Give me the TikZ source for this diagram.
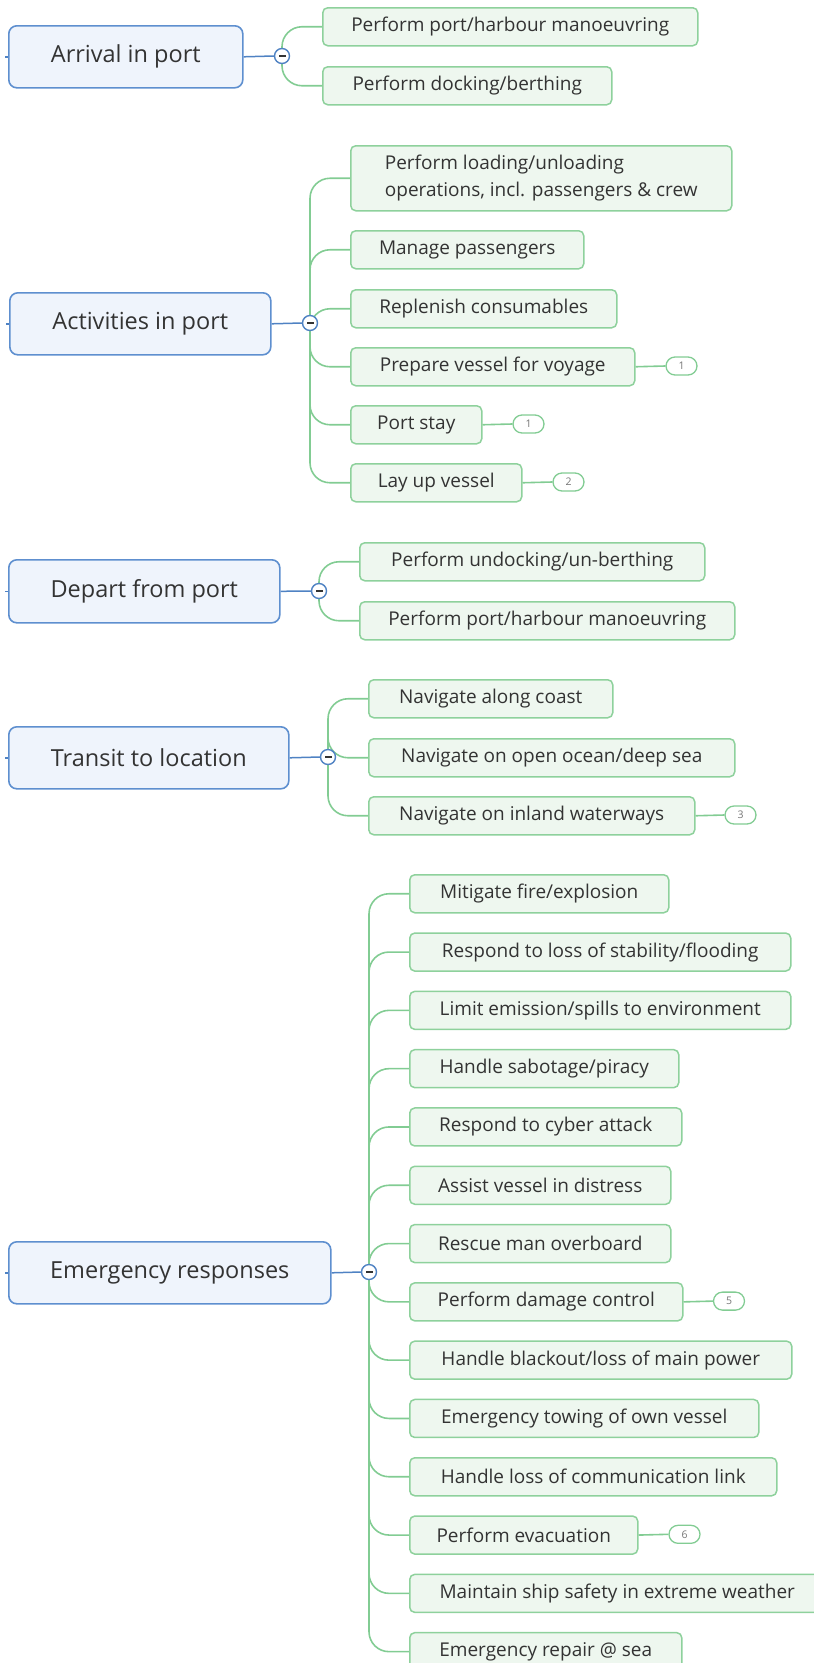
\documentclass[tikz,border=0pt]{standalone}
\usepackage{fontspec}
\setmainfont{Open Sans}
\usetikzlibrary{backgrounds}
\definecolor{rootfill}{HTML}{EFF4FC}
\definecolor{rootdraw}{HTML}{5E8FCF}
\definecolor{kidfill}{HTML}{EEF7EF}
\definecolor{kiddraw}{HTML}{8ED19C}
\definecolor{linkblue}{HTML}{4F82C3}
\definecolor{linkgreen}{HTML}{82CC93}
\definecolor{txt}{HTML}{333333}
\definecolor{badgetxt}{HTML}{777777}
\newcommand\kid[5]{\node[kidbox, minimum width=#4] (#1) at (#2,#3) {#5};}
\begin{document}
\begin{tikzpicture}[x=1pt,y=-1pt,
  rootbox/.style={draw=rootdraw, fill=rootfill, line width=1.6pt, rounded corners=8pt,
    anchor=north west, inner sep=0pt, minimum height=62pt, text=txt,
    font=\fontsize{23.5}{28}\selectfont},
  kidbox/.style={draw=kiddraw, fill=kidfill, line width=1.5pt, rounded corners=5pt,
    anchor=north west, inner sep=0pt, minimum height=38pt, text=txt,
    font=\fontsize{19}{27}\selectfont},
  toggle/.style={circle, draw=linkblue, fill=white, line width=1.4pt, minimum size=15pt,
    inner sep=0pt, path picture={\fill[txt] ([xshift=-3.5pt,yshift=-1pt]path picture bounding box.center) rectangle ([xshift=3.5pt,yshift=1pt]path picture bounding box.center);}},
  badge/.style={draw=linkgreen, fill=white, line width=1.3pt, rounded corners=9pt,
    minimum width=31pt, minimum height=18pt, inner sep=0pt, text=badgetxt,
    font=\fontsize{10.5}{10.5}\selectfont},
  rootlink/.style={draw=linkblue, line width=1.5pt},
  kidlink/.style={draw=linkgreen, line width=1.6pt, rounded corners=20pt},
  badgelink/.style={draw=linkgreen, line width=1.6pt},
  stub/.style={draw=linkblue, line width=1.5pt}]
\useasboundingbox (0,0) rectangle (814,1663);
\clip (0,0) rectangle (814,1663);

% ---------- Arrival in port ----------
\node[rootbox, minimum width=234pt] (r1) at (8,25) {Arrival in port};
\node[toggle] (c1) at (282,56) {};
\kid{a1}{322}{7}{375}{Perform port/harbour manoeuvring}
\kid{a2}{322}{66}{289}{Perform docking/berthing}

% ---------- Activities in port ----------
\node[rootbox, minimum width=261pt] (r2) at (9,292) {Activities in port};
\node[toggle] (c2) at (310,323) {};
\node[kidbox, minimum width=381pt, minimum height=65pt, align=left] (b1) at (350,145)
  {Perform loading/unloading\\operations, incl. passengers \& crew};
\kid{b2}{350}{230}{233}{Manage passengers}
\kid{b3}{350}{289}{266}{Replenish consumables}
\kid{b4}{350}{347}{284}{Prepare vessel for voyage}
\kid{b5}{350}{405}{131}{Port stay}
\kid{b6}{350}{463}{171}{Lay up vessel}
\node[badge] (bb4) at (681.5,366) {1};
\node[badge] (bb5) at (528.5,424) {1};
\node[badge] (bb6) at (568.5,482) {2};

% ---------- Depart from port ----------
\node[rootbox, minimum width=271pt, minimum height=63pt] (r3) at (8,559) {Depart from port};
\node[toggle] (c3) at (319,591) {};
\kid{d1}{359}{542}{345}{Perform undocking/un-berthing}
\kid{d2}{359}{601}{375}{Perform port/harbour manoeuvring}

% ---------- Transit to location ----------
\node[rootbox, minimum width=280pt] (r4) at (8,726) {Transit to location};
\node[toggle] (c4) at (328,757) {};
\kid{t1}{368}{679}{244}{Navigate along coast}
\kid{t2}{368}{738}{366}{Navigate on open ocean/deep sea}
\kid{t3}{368}{796}{326}{Navigate on inland waterways}
\node[badge] (bt3) at (740.5,815) {3};

% ---------- Emergency responses ----------
\node[rootbox, minimum width=322pt] (r5) at (8,1241) {Emergency responses};
\node[toggle] (c5) at (369,1272) {};
\kid{e1}{409}{874.0}{259}{Mitigate fire/explosion}
\kid{e2}{409}{932.3}{381}{Respond to loss of stability/flooding}
\kid{e3}{409}{990.6}{381}{Limit emission/spills to environment}
\kid{e4}{409}{1048.9}{269}{Handle sabotage/piracy}
\kid{e5}{409}{1107.2}{272}{Respond to cyber attack}
\kid{e6}{409}{1165.5}{261}{Assist vessel in distress}
\kid{e7}{409}{1223.8}{261}{Rescue man overboard}
\kid{e8}{409}{1282.1}{273}{Perform damage control}
\kid{e9}{409}{1340.4}{382}{Handle blackout/loss of main power}
\kid{e10}{409}{1398.7}{349}{Emergency towing of own vessel}
\kid{e11}{409}{1457.0}{367}{Handle loss of communication link}
\kid{e12}{409}{1515.3}{228}{Perform evacuation}
\kid{e13}{409}{1573.6}{415}{Maintain ship safety in extreme weather}
\kid{e14}{409}{1631.9}{272}{Emergency repair @ sea}
\node[badge] (be8) at (729,1301.1) {5};
\node[badge] (be12) at (684.5,1534.3) {6};

% ---------- connectors ----------
\begin{scope}[on background layer]
\foreach \r/\c in {r1/c1,r2/c2,r3/c3,r4/c4,r5/c5}{
  \draw[rootlink] (\r.east) -- (\c.west);
  \coordinate (\r-s) at ([xshift=-3pt]\r.west);
  \draw[stub] (\r.west) -- (\r-s);
}
\foreach \k in {a1,a2}{\draw[kidlink] (c1.center) |- (\k.west);}
\foreach \k in {b1,b2,b3,b4,b5,b6}{\draw[kidlink] (c2.center) |- (\k.west);}
\foreach \k in {d1,d2}{\draw[kidlink] (c3.center) |- (\k.west);}
\foreach \k in {t1,t2,t3}{\draw[kidlink] (c4.center) |- (\k.west);}
\foreach \k in {e1,e2,e3,e4,e5,e6,e7,e8,e9,e10,e11,e12,e13,e14}{\draw[kidlink] (c5.center) |- (\k.west);}
\foreach \k/\b in {b4/bb4,b5/bb5,b6/bb6,t3/bt3,e8/be8,e12/be12}{\draw[badgelink] (\k.east) -- (\b.west);}
\end{scope}
\end{tikzpicture}
\end{document}
